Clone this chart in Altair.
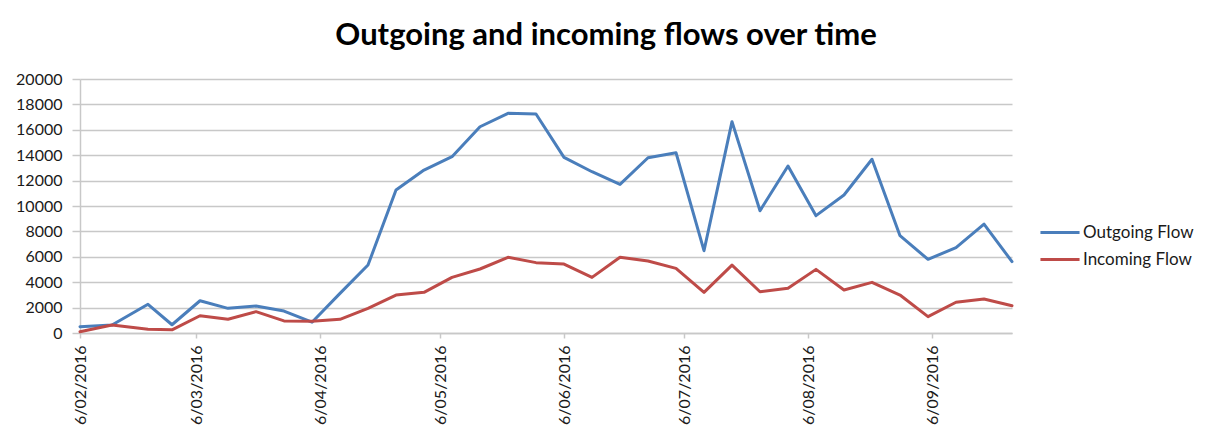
import altair as alt
import pandas as pd

# ---- data ----
dates = [
    "2016-02-06", "2016-02-14", "2016-02-23", "2016-02-29",
    "2016-03-07", "2016-03-14", "2016-03-21", "2016-03-28",
    "2016-04-04", "2016-04-11", "2016-04-18", "2016-04-25",
    "2016-05-02", "2016-05-09", "2016-05-16", "2016-05-23", "2016-05-30",
    "2016-06-06", "2016-06-13", "2016-06-20", "2016-06-27",
    "2016-07-04", "2016-07-11", "2016-07-18", "2016-07-25",
    "2016-08-01", "2016-08-08", "2016-08-15", "2016-08-22", "2016-08-29",
    "2016-09-05", "2016-09-12", "2016-09-19", "2016-09-26",
]
outgoing = [500, 630, 2260, 650, 2540, 1940, 2120, 1730, 850, 3120, 5350, 11260,
            12830, 13880, 16240, 17300, 17240, 13830, 12700, 11700, 13800, 14200,
            6480, 16640, 9630, 13150, 9240, 10870, 13680, 7660, 5800, 6720, 8580, 5620]
incoming = [100, 630, 300, 250, 1360, 1080, 1680, 950, 930, 1080, 1940, 2990,
            3200, 4380, 5040, 5960, 5540, 5430, 4380, 5960, 5670, 5090,
            3200, 5350, 3250, 3520, 5010, 3390, 3990, 2990, 1290, 2420, 2680, 2150]
series_names = ["Outgoing Flow", "Incoming Flow"]
series_colors = ["#4a7ebb", "#be4b48"]
tick_dates = ["2016-02-06", "2016-03-06", "2016-04-06", "2016-05-06",
              "2016-06-06", "2016-07-06", "2016-08-06", "2016-09-06"]
y_ticks = [0, 2000, 4000, 6000, 8000, 10000, 12000, 14000, 16000, 18000, 20000]
title_text = "Outgoing and incoming flows over time"

rows = []
for name, vals in zip(series_names, [outgoing, incoming]):
    for d, v in zip(dates, vals):
        rows.append({"date": d + "T00:00:00", "series": name, "value": v})
df = pd.DataFrame(rows)


def to_dt(s):
    y, m, d = (int(p) for p in s.split("-"))
    return alt.DateTime(year=y, month=m, date=d)


FONT = "Lato"
TEXT = "#1a1a1a"
GRID = "#c8c8c8"

chart = alt.Chart(df).mark_line(
    strokeWidth=3, strokeJoin="round", strokeCap="round"
).encode(
    x=alt.X(
        "date:T",
        scale=alt.Scale(domain=[to_dt(dates[0]), to_dt(dates[-1])], nice=False),
        axis=alt.Axis(
            title=None, values=[to_dt(t) for t in tick_dates], format="%-d/%m/%Y",
            labelAngle=270, labelFont=FONT, labelFontSize=16, labelColor=TEXT,
            labelPadding=7, grid=False, domainColor=GRID, domainWidth=1.5,
            tickColor=GRID, tickSize=5, tickWidth=1.5, labelOverlap=False,
        ),
    ),
    y=alt.Y(
        "value:Q",
        scale=alt.Scale(domain=[0, 20000], nice=False),
        axis=alt.Axis(
            title=None, values=y_ticks, format="d", labelFont=FONT, labelFontSize=16,
            labelColor=TEXT, labelPadding=10, grid=True, gridColor=GRID, gridWidth=1.5,
            domainColor=GRID, domainWidth=1.5, tickColor=GRID, tickSize=8, tickWidth=1.5,
        ),
    ),
    color=alt.Color(
        "series:N",
        sort=series_names,
        scale=alt.Scale(domain=series_names, range=series_colors),
        legend=alt.Legend(
            title=None, orient="none", legendX=961.5, legendY=135,
            symbolType="M-1.15,0H1.15", symbolSize=1156, symbolStrokeWidth=3,
            labelFont=FONT, labelFontSize=17, labelColor=TEXT, labelOffset=4.5,
            padding=0, rowPadding=0,
        ),
    ),
).properties(
    width=932,
    height=254,
    title=alt.TitleParams(
        title_text, font=FONT, fontSize=31, fontWeight="bold", color="black",
        anchor="middle", offset=19, dx=60,
    ),
    padding={"left": 72, "top": 71, "right": 190, "bottom": 93},
    autosize=alt.AutoSizeParams(type="none"),
).configure_view(stroke=None)

chart.save("out.html", embed_options={"renderer": "svg", "actions": False})
